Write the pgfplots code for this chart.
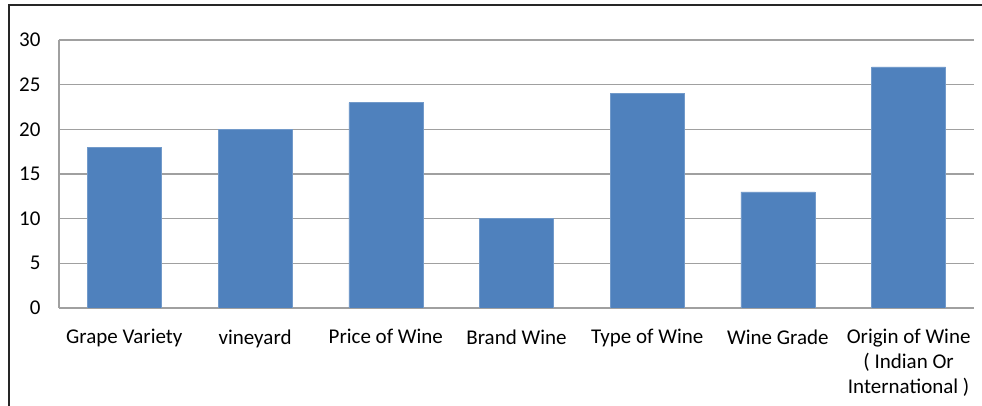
\documentclass[border=0pt]{standalone}
\usepackage{pgfplots}
\pgfplotsset{compat=1.18}
\usepackage{fontspec}
\setmainfont{Carlito}
\definecolor{barblue}{HTML}{4F81BD}
\definecolor{gridgray}{HTML}{A0A0A0}
\definecolor{framegray}{HTML}{262626}
\begin{document}
\begin{tikzpicture}[x=1pt,y=1pt]
\begin{axis}[
  at={(0pt,0pt)}, anchor=south west,
  scale only axis, width=915pt, height=268pt,
  ymin=0, ymax=30, ytick={0,5,...,30},
  xmin=-0.5, xmax=6.5,
  xtick={0,...,6},
  xticklabels={Grape Variety, vineyard, Price of Wine, Brand Wine, Type of Wine, Wine Grade, {Origin of Wine\\( Indian Or\\International )}},
  x tick label style={align=center, anchor=north, yshift=-18pt, font=\fontsize{21}{25}\selectfont},
  y tick label style={font=\fontsize{21}{25}\selectfont, xshift=-15pt},
  /pgf/number format/assume math mode=true,
  ymajorgrids, grid style={gridgray, line width=1.2pt},
  axis x line*=bottom, axis y line*=left,
  axis line style={gridgray, line width=1.2pt, -},
  major tick length=0pt,
  ybar, bar width=74pt,
]
\addplot[fill=barblue, draw=barblue!80!white] coordinates {(0,18) (1,20) (2,23) (3,10) (4,24) (5,13) (6,27)};
\end{axis}
\draw[framegray, line width=2.5pt] (-50pt,-98pt) -- (-50pt,303pt) -- (930pt,303pt);
\pgfresetboundingbox
\useasboundingbox (-59pt,-98pt) rectangle (923pt,308pt);
\end{tikzpicture}
\end{document}
